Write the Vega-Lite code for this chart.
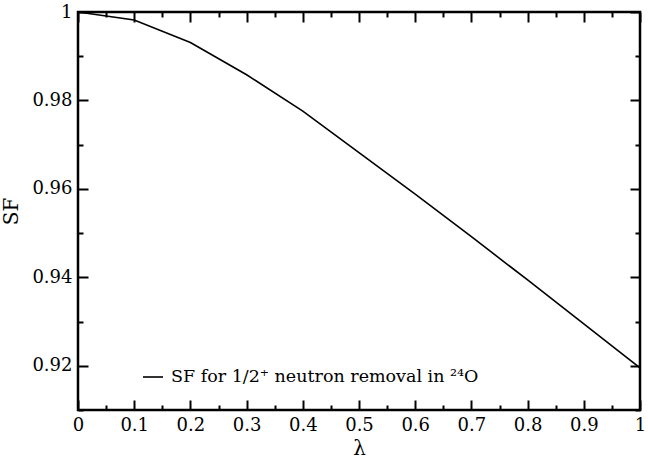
{
  "$schema": "https://vega.github.io/schema/vega-lite/v6.json",
  "width": 562,
  "height": 398,
  "autosize": {"type": "none"},
  "padding": {"left": 78, "top": 12, "right": 8, "bottom": 51},
  "background": "white",
  "config": {
    "view": {"stroke": "black", "strokeWidth": 2.5},
    "font": "DejaVu Serif",
    "axis": {
      "grid": false,
      "domain": false,
      "tickColor": "black",
      "tickWidth": 2,
      "labelFont": "DejaVu Serif",
      "labelFontSize": 18,
      "labelColor": "black",
      "titleFont": "DejaVu Serif",
      "titleFontWeight": "normal",
      "titleColor": "black",
      "titleFontSize": 20,
      "labelFlush": false,
      "labelOverlap": false
    },
    "legend": {
      "labelFont": "DejaVu Serif"
    }
  },
  "data": {
    "values": [
      {"lambda": 0.0, "sf": 1.0, "series": "SF for 1/2⁺ neutron removal in ²⁴O"},
      {"lambda": 0.1, "sf": 0.9982, "series": "SF for 1/2⁺ neutron removal in ²⁴O"},
      {"lambda": 0.2, "sf": 0.9931, "series": "SF for 1/2⁺ neutron removal in ²⁴O"},
      {"lambda": 0.3, "sf": 0.9858, "series": "SF for 1/2⁺ neutron removal in ²⁴O"},
      {"lambda": 0.4, "sf": 0.9776, "series": "SF for 1/2⁺ neutron removal in ²⁴O"},
      {"lambda": 0.5, "sf": 0.9682, "series": "SF for 1/2⁺ neutron removal in ²⁴O"},
      {"lambda": 0.6, "sf": 0.9588, "series": "SF for 1/2⁺ neutron removal in ²⁴O"},
      {"lambda": 0.7, "sf": 0.9492, "series": "SF for 1/2⁺ neutron removal in ²⁴O"},
      {"lambda": 0.8, "sf": 0.9394, "series": "SF for 1/2⁺ neutron removal in ²⁴O"},
      {"lambda": 0.9, "sf": 0.9295, "series": "SF for 1/2⁺ neutron removal in ²⁴O"},
      {"lambda": 1.0, "sf": 0.9195, "series": "SF for 1/2⁺ neutron removal in ²⁴O"}
    ]
  },
  "layer": [
    {
      "mark": {"type": "line", "strokeWidth": 1.6, "color": "black"},
      "encoding": {
        "x": {
          "field": "lambda", "type": "quantitative",
          "scale": {"domain": [0, 1], "nice": false, "zero": false},
          "axis": {"orient": "bottom", "title": "λ", "values": [0, 0.1, 0.2, 0.3, 0.4, 0.5, 0.6, 0.7, 0.8, 0.9, 1], "tickSize": -10, "labelPadding": 16, "titlePadding": 4, "format": ".1~f"}
        },
        "y": {
          "field": "sf", "type": "quantitative",
          "scale": {"domain": [0.91, 1], "nice": false, "zero": false},
          "axis": {"orient": "left", "title": "SF", "values": [0.92, 0.94, 0.96, 0.98, 1], "tickSize": -10, "labelPadding": 16, "titlePadding": 10, "format": "~g"}
        },
        "color": {
          "field": "series", "type": "nominal",
          "scale": {"range": ["black"]},
          "legend": {
            "title": null, "orient": "none", "legendX": 64, "legendY": 354,
            "symbolType": "stroke", "symbolSize": 400, "symbolStrokeWidth": 1.6,
            "labelFont": "DejaVu Serif", "labelFontSize": 17.5, "labelColor": "black",
            "labelLimit": 500, "labelOffset": 7
          }
        }
      }
    },
    {
      "mark": {"type": "line", "strokeOpacity": 0},
      "encoding": {
        "x": {"field": "lambda", "type": "quantitative", "axis": {"orient": "top", "title": null, "labels": false, "values": [0, 0.1, 0.2, 0.3, 0.4, 0.5, 0.6, 0.7, 0.8, 0.9, 1], "tickSize": -10}},
        "y": {"field": "sf", "type": "quantitative", "axis": {"orient": "right", "title": null, "labels": false, "values": [0.92, 0.94, 0.96, 0.98, 1], "tickSize": -10}}
      }
    },
    {
      "mark": {"type": "line", "strokeOpacity": 0},
      "encoding": {
        "x": {"field": "lambda", "type": "quantitative", "axis": {"orient": "bottom", "title": null, "labels": false, "values": [0.05, 0.15, 0.25, 0.35, 0.45, 0.55, 0.65, 0.75, 0.85, 0.95], "tickSize": -5}},
        "y": {"field": "sf", "type": "quantitative", "axis": {"orient": "left", "title": null, "labels": false, "values": [0.91, 0.93, 0.95, 0.97, 0.99], "tickSize": -5}}
      }
    },
    {
      "mark": {"type": "line", "strokeOpacity": 0},
      "encoding": {
        "x": {"field": "lambda", "type": "quantitative", "axis": {"orient": "top", "title": null, "labels": false, "values": [0.05, 0.15, 0.25, 0.35, 0.45, 0.55, 0.65, 0.75, 0.85, 0.95], "tickSize": -5}},
        "y": {"field": "sf", "type": "quantitative", "axis": {"orient": "right", "title": null, "labels": false, "values": [0.91, 0.93, 0.95, 0.97, 0.99], "tickSize": -5}}
      }
    }
  ],
  "resolve": {"axis": {"x": "independent", "y": "independent"}}
}
